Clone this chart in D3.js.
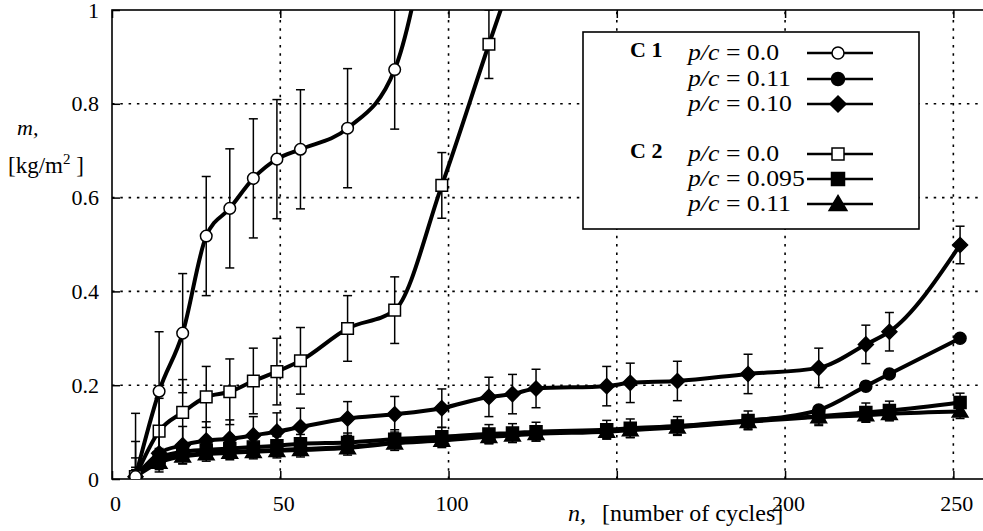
<!DOCTYPE html>
<html><head><meta charset="utf-8">
<script src="https://cdn.jsdelivr.net/npm/d3@7"></script>
<style>
body{margin:0;background:#fff;}
svg{display:block;}
svg text{font-family:"Liberation Serif","Times New Roman","DejaVu Serif",serif;}
</style></head>
<body><svg id="c" width="983" height="531"></svg>
<script>
// ---- data ----
const xTicks = [0, 50, 100, 150, 200, 250];
const xTickLabels = ["0", "50", "100", "", "200", "250"];
const yTicks = [0, 0.2, 0.4, 0.6, 0.8, 1];
const yTickLabels = ["0", "0.2", "0.4", "0.6", "0.8", "1"];

// C1 p/c = 0.0 (open circle) – last point lies above the chart
const nC1a = [7, 14, 21, 28, 35, 42, 49, 56, 70, 84, 98];
const mC1a = [0.005, 0.187, 0.311, 0.518, 0.577, 0.641, 0.682, 0.703, 0.748, 0.873, 1.35];
const eC1a = [0.135, 0.127, 0.127, 0.127, 0.127, 0.127, 0.127, 0.127, 0.127, 0.127, 0.127];

// C1 p/c = 0.11 (filled circle)
const nC1b = [7, 14, 21, 28, 35, 42, 49, 56, 70, 84, 98, 112, 119, 126, 147, 154, 168, 189, 210, 224, 231, 252];
const mC1b = [0.005, 0.040, 0.050, 0.055, 0.058, 0.060, 0.062, 0.064, 0.068, 0.078, 0.085, 0.093, 0.095, 0.098, 0.103, 0.106, 0.112, 0.124, 0.147, 0.198, 0.224, 0.300];

// C1 p/c = 0.10 (filled diamond)
const nC1c = [7, 14, 21, 28, 35, 42, 49, 56, 70, 84, 98, 112, 119, 126, 147, 154, 168, 189, 210, 224, 231, 252];
const mC1c = [0.005, 0.055, 0.072, 0.082, 0.086, 0.093, 0.101, 0.111, 0.129, 0.138, 0.151, 0.175, 0.181, 0.193, 0.198, 0.205, 0.209, 0.224, 0.237, 0.287, 0.314, 0.499];
const eC1c = [0.040, 0.040, 0.040, 0.040, 0.040, 0.040, 0.040, 0.040, 0.036, 0.038, 0.041, 0.042, 0.042, 0.041, 0.042, 0.042, 0.042, 0.042, 0.042, 0.041, 0.041, 0.040];

// C2 p/c = 0.0 (open square) – last point lies above the chart
const nC2a = [7, 14, 21, 28, 35, 42, 49, 56, 70, 84, 98, 112, 126];
const mC2a = [0.005, 0.102, 0.142, 0.175, 0.186, 0.209, 0.229, 0.252, 0.321, 0.360, 0.626, 0.927, 1.22];
const eC2a = [0.075, 0.070, 0.070, 0.065, 0.070, 0.070, 0.071, 0.071, 0.070, 0.071, 0.070, 0.073, 0.073];

// C2 p/c = 0.095 (filled square)
const nC2b = [7, 14, 21, 28, 35, 42, 49, 56, 70, 84, 98, 112, 119, 126, 147, 154, 168, 189, 210, 224, 231, 252];
const mC2b = [0.005, 0.045, 0.058, 0.062, 0.065, 0.068, 0.071, 0.075, 0.078, 0.085, 0.090, 0.096, 0.098, 0.101, 0.105, 0.108, 0.113, 0.125, 0.134, 0.142, 0.146, 0.163];
const eC2b = [0.020, 0.020, 0.020, 0.020, 0.020, 0.020, 0.020, 0.020, 0.020, 0.020, 0.020, 0.020, 0.020, 0.020, 0.020, 0.020, 0.020, 0.020, 0.020, 0.020, 0.020, 0.020];

// C2 p/c = 0.11 (filled triangle)
const nC2c = [7, 14, 21, 28, 35, 42, 49, 56, 70, 84, 98, 112, 119, 126, 147, 154, 168, 189, 210, 224, 231, 252];
const mC2c = [0.005, 0.035, 0.048, 0.053, 0.056, 0.058, 0.060, 0.062, 0.066, 0.076, 0.082, 0.090, 0.093, 0.096, 0.101, 0.104, 0.110, 0.122, 0.132, 0.136, 0.139, 0.144];
const eC2c = [0.015, 0.015, 0.015, 0.015, 0.015, 0.015, 0.015, 0.015, 0.015, 0.015, 0.015, 0.015, 0.015, 0.015, 0.015, 0.015, 0.015, 0.015, 0.015, 0.015, 0.015, 0.015];

const legendGroups = ["C 1", "C 2"];
const legendLabels = ["0.0", "0.11", "0.10", "0.0", "0.095", "0.11"];

// ---- drawing ----
const FONT = "Liberation Serif, Times New Roman, DejaVu Serif, serif";
const svg = d3.select("#c");
const x = d3.scaleLinear().domain([0, 260]).range([112, 987]);
const y = d3.scaleLinear().domain([0, 1]).range([479, 10]);

svg.append("defs").append("clipPath").attr("id", "clip")
  .append("rect").attr("x", 112).attr("y", 10).attr("width", 875).attr("height", 469);

// grid
const grid = svg.append("g").attr("stroke", "#000").attr("stroke-width", 1.6)
  .attr("stroke-dasharray", "2.5,5.8");
grid.selectAll("line.v").data(xTicks.filter(d => d > 0)).join("line")
  .attr("x1", d => x(d)).attr("x2", d => x(d)).attr("y1", y(0)).attr("y2", y(1));
grid.selectAll("line.h").data(yTicks.filter(d => d > 0 && d < 1)).join("line")
  .attr("x1", x(0)).attr("x2", x(260)).attr("y1", d => y(d)).attr("y2", d => y(d));

// axes
const gx = svg.append("g").attr("transform", `translate(0,${y(0)})`)
  .call(d3.axisBottom(x).tickValues(xTicks).tickFormat((d, i) => xTickLabels[i])
    .tickSizeInner(-8).tickSizeOuter(0).tickPadding(16.5));
gx.attr("font-family", FONT);
gx.select(".domain").remove();
gx.selectAll("text").attr("font-size", "22px").attr("font-family", FONT).attr("fill", "#000").attr("dx", 3);
gx.selectAll("line").attr("stroke-width", 1.5);

const gxt = svg.append("g").attr("transform", `translate(0,${y(1)})`)
  .call(d3.axisTop(x).tickValues(xTicks).tickFormat("").tickSizeInner(-8).tickSizeOuter(0));
gxt.select(".domain").remove();
gxt.selectAll("line").attr("stroke-width", 1.5);

const gy = svg.append("g").attr("transform", `translate(${x(0)},0)`)
  .call(d3.axisLeft(y).tickValues(yTicks).tickFormat((d, i) => yTickLabels[i])
    .tickSizeInner(-8).tickSizeOuter(0).tickPadding(13));
gy.attr("font-family", FONT);
gy.select(".domain").remove();
gy.selectAll("text").attr("font-size", "22px").attr("font-family", FONT).attr("fill", "#000");
gy.selectAll("line").attr("stroke-width", 1.5);

// frame
svg.append("rect").attr("x", 112).attr("y", 10).attr("width", 875).attr("height", 469)
  .attr("fill", "none").attr("stroke", "#000").attr("stroke-width", 1.6);

// markers
function markerPath(type, s) {
  const p = d3.path();
  if (type === "circle") { p.arc(0, 0, s, 0, 2 * Math.PI); }
  else if (type === "square") { p.rect(-s, -s, 2 * s, 2 * s); }
  else if (type === "diamond") { p.moveTo(0, -s); p.lineTo(s, 0); p.lineTo(0, s); p.lineTo(-s, 0); p.closePath(); }
  else if (type === "triangle") { p.moveTo(0, -s); p.lineTo(s * 1.05, s * 0.75); p.lineTo(-s * 1.05, s * 0.75); p.closePath(); }
  return p.toString();
}

const series = [
  {n: nC1b, m: mC1b, e: null, type: "circle", size: 6, fill: "#000"},
  {n: nC2c, m: mC2c, e: eC2c, type: "triangle", size: 7.5, fill: "#000"},
  {n: nC2b, m: mC2b, e: eC2b, type: "square", size: 6, fill: "#000"},
  {n: nC1c, m: mC1c, e: eC1c, type: "diamond", size: 7.5, fill: "#000"},
  {n: nC2a, m: mC2a, e: eC2a, type: "square", size: 5.8, fill: "#fff"},
  {n: nC1a, m: mC1a, e: eC1a, type: "circle", size: 5.8, fill: "#fff"}
];

const plot = svg.append("g").attr("clip-path", "url(#clip)");
const line = d3.line().x(d => x(d[0])).y(d => y(d[1])).curve(d3.curveMonotoneX);

series.forEach(s => {
  const pts = s.n.map((v, i) => [v, s.m[i]]);
  const g = plot.append("g");
  g.append("path").attr("d", line(pts)).attr("fill", "none").attr("stroke", "#000")
    .attr("stroke-width", 4).attr("stroke-linejoin", "round");
  if (s.e) {
    const eb = g.append("g").attr("stroke", "#000").attr("stroke-width", 1.5);
    pts.forEach((p, i) => {
      const lo = Math.max(0, p[1] - s.e[i]), hi = p[1] + s.e[i];
      const cx = x(p[0]);
      eb.append("line").attr("x1", cx).attr("x2", cx).attr("y1", y(lo)).attr("y2", y(hi));
      eb.append("line").attr("x1", cx - 4.5).attr("x2", cx + 4.5).attr("y1", y(lo)).attr("y2", y(lo));
      eb.append("line").attr("x1", cx - 4.5).attr("x2", cx + 4.5).attr("y1", y(hi)).attr("y2", y(hi));
    });
  }
  g.selectAll("path.mk").data(pts).join("path").attr("class", "mk")
    .attr("transform", d => `translate(${x(d[0])},${y(d[1])})`)
    .attr("d", markerPath(s.type, s.size))
    .attr("fill", s.fill).attr("stroke", "#000").attr("stroke-width", 1.5);
});

// legend
const lg = svg.append("g").attr("font-family", FONT);
lg.append("rect").attr("x", 583).attr("y", 32).attr("width", 336).attr("height", 197)
  .attr("fill", "#fff").attr("stroke", "#000").attr("stroke-width", 1.6);
const rowsY = [53, 79, 104, 154, 179, 204];
const legendMarkers = [
  {type: "circle", size: 6, fill: "#fff"},
  {type: "circle", size: 6.5, fill: "#000"},
  {type: "diamond", size: 8, fill: "#000"},
  {type: "square", size: 6, fill: "#fff"},
  {type: "square", size: 6.5, fill: "#000"},
  {type: "triangle", size: 8.5, fill: "#000"}
];
legendGroups.forEach((t, i) => {
  lg.append("text").attr("x", 630).attr("y", rowsY[i * 3] + 3.5).attr("font-family", FONT)
    .attr("font-size", "22px").attr("font-weight", "bold").text(t);
});
legendLabels.forEach((lab, i) => {
  const t = lg.append("text").attr("transform", `translate(688,${rowsY[i] + 7}) scale(1.12,1)`)
    .attr("font-family", FONT).attr("font-size", "23px");
  t.append("tspan").attr("font-style", "italic").text("p/c");
  t.append("tspan").text(" = " + lab);
  lg.append("line").attr("x1", 807).attr("x2", 873).attr("y1", rowsY[i]).attr("y2", rowsY[i])
    .attr("stroke", "#000").attr("stroke-width", 2.6);
  const mk = legendMarkers[i];
  lg.append("path").attr("transform", `translate(838,${rowsY[i]})`)
    .attr("d", markerPath(mk.type, mk.size)).attr("fill", mk.fill)
    .attr("stroke", "#000").attr("stroke-width", 1.5);
});

// axis titles
svg.append("text").attr("x", 17).attr("y", 135).attr("font-size", "22px").attr("font-family", FONT)
  .attr("font-style", "italic").text("m,");
const yt = svg.append("text").attr("x", 8).attr("y", 173).attr("font-size", "23px").attr("font-family", FONT);
yt.append("tspan").text("[kg/m");
yt.append("tspan").attr("font-size", "15px").attr("dy", -9).text("2");
yt.append("tspan").attr("dy", 9).text(" ]");

const xt = svg.append("text").attr("x", 568).attr("y", 521).attr("font-size", "24px").attr("font-family", FONT);
xt.append("tspan").attr("font-style", "italic").text("n,");
xt.append("tspan").attr("x", 602).text("[number of cycles]");
</script></body></html>
